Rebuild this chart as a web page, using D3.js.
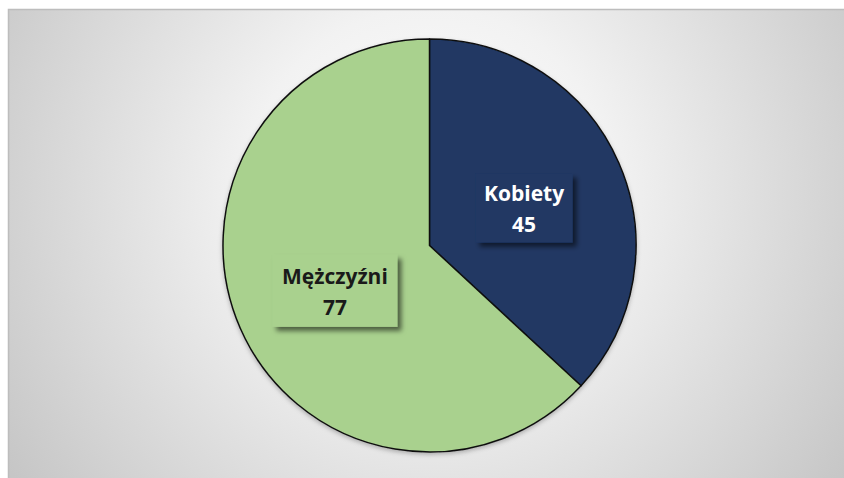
<!DOCTYPE html>
<html><head><meta charset="utf-8">
<script src="https://cdn.jsdelivr.net/npm/d3@7"></script>
<style>html,body{margin:0;padding:0;background:#fff;overflow:hidden}</style>
</head><body>
<svg id="c" width="844" height="478"></svg>
<script>
const categories = ["Kobiety", "Mężczyźni"];
const values = [45, 77];
const colors = ["#203864", "#a9d18e"];
const textColors = ["#ffffff", "#1a1a1a"];

const W = 844, H = 478;
const svg = d3.select("#c");
const defs = svg.append("defs");
const rg = defs.append("radialGradient").attr("id","bg")
  .attr("gradientUnits","userSpaceOnUse")
  .attr("cx",430).attr("cy",190).attr("r",520);
rg.append("stop").attr("offset","0%").attr("stop-color","#ffffff");
rg.append("stop").attr("offset","35%").attr("stop-color","#f2f2f2");
rg.append("stop").attr("offset","100%").attr("stop-color","#c4c4c4");

const sh = defs.append("filter").attr("id","sh").attr("x","-30%").attr("y","-30%").attr("width","160%").attr("height","160%");
sh.append("feDropShadow").attr("dx",4).attr("dy",4).attr("stdDeviation",2.5).attr("flood-color","#000").attr("flood-opacity",0.55);
const psh = defs.append("filter").attr("id","psh").attr("x","-10%").attr("y","-10%").attr("width","120%").attr("height","120%");
psh.append("feDropShadow").attr("dx",0).attr("dy",2).attr("stdDeviation",2).attr("flood-color","#000").attr("flood-opacity",0.25);

svg.append("rect").attr("x",8.5).attr("y",9.5).attr("width",W).attr("height",H)
  .attr("fill","url(#bg)").attr("stroke","#bdbdbd").attr("stroke-width",1.5);

const cx = 429.5, cy = 245.5, r = 206.5;
const pie = d3.pie().sort(null).value(d => d)(values);
const arc = d3.arc().innerRadius(0).outerRadius(r);
const labelArc = d3.arc().innerRadius(r*0.5).outerRadius(r*0.5);

const g = svg.append("g").attr("transform",`translate(${cx},${cy})`);
g.append("g").attr("filter","url(#psh)").selectAll("path").data(pie).join("path")
  .attr("d", arc).attr("fill",(d,i)=>colors[i])
  .attr("stroke","#111").attr("stroke-width",1.5).attr("stroke-linejoin","round");

const boxSize = [[97,69],[125,72]];
const lab = g.selectAll("g.lab").data(pie).join("g").attr("class","lab")
  .attr("transform",(d,i)=>{const c = labelArc.centroid(d); return `translate(${c[0]},${c[1]+4})`;});
lab.append("rect")
  .attr("x",(d,i)=>-boxSize[i][0]/2).attr("y",(d,i)=>-boxSize[i][1]/2)
  .attr("width",(d,i)=>boxSize[i][0]).attr("height",(d,i)=>boxSize[i][1])
  .attr("fill",(d,i)=>colors[i]).attr("filter","url(#sh)");
lab.append("text").attr("text-anchor","middle")
  .attr("font-family","'Open Sans', sans-serif").attr("font-weight","bold").attr("font-size",21)
  .attr("fill",(d,i)=>textColors[i])
  .each(function(d,i){
    const t = d3.select(this);
    t.append("tspan").attr("x",0).attr("y",-7).text(categories[i]);
    t.append("tspan").attr("x",0).attr("y",24).text(values[i]);
  });
</script>
</body></html>
